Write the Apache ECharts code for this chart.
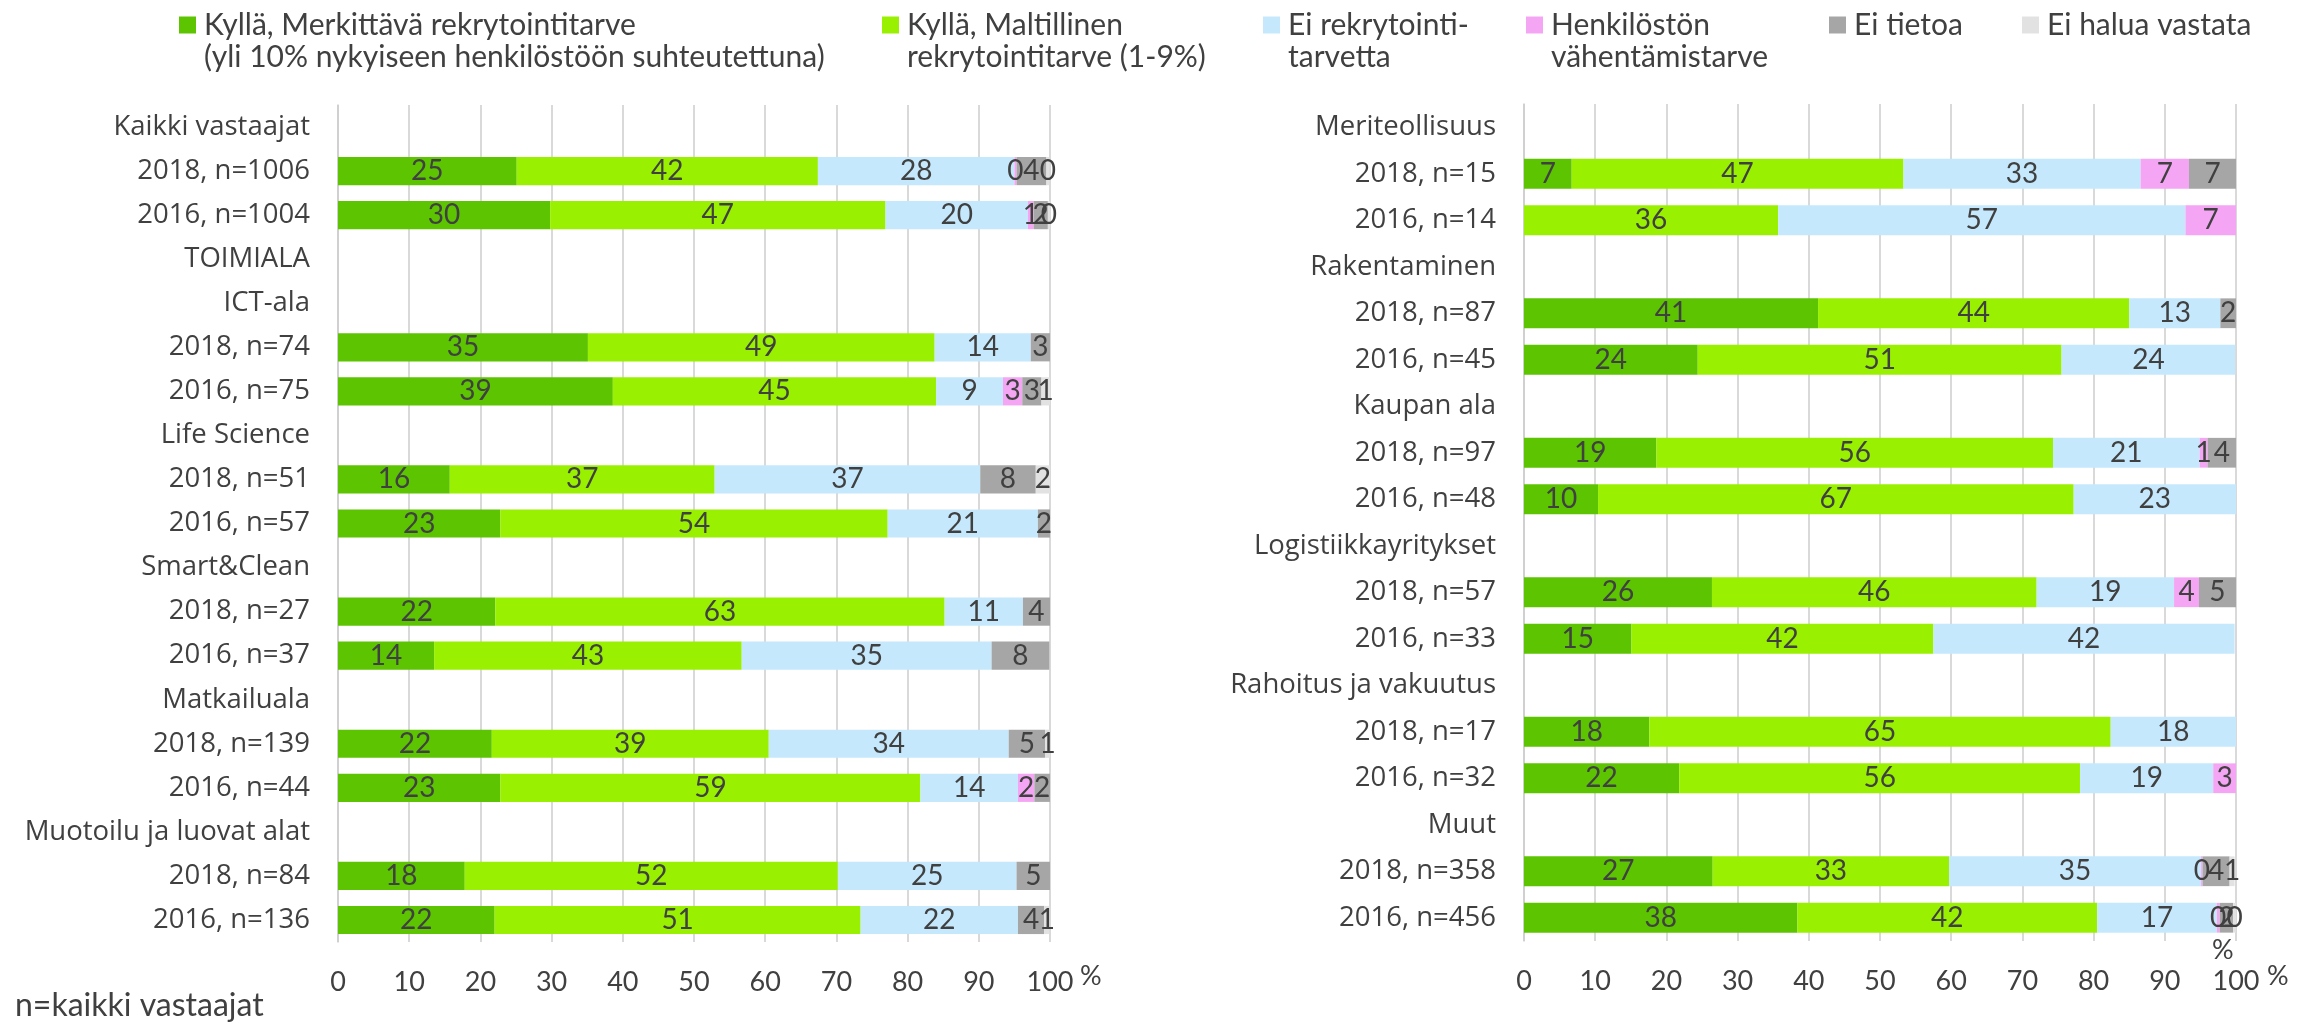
<!DOCTYPE html>
<html>
<head>
<meta charset="utf-8">
<script src="https://cdn.jsdelivr.net/npm/echarts@6/dist/echarts.min.js"></script>
<style>
  html, body { margin: 0; padding: 0; background: #fff; }
  #chart { width: 2315px; height: 1022px; }
</style>
</head>
<body>
<div id="chart"></div>
<script>
// series names (second line of each legend entry after \n)
const seriesNames = [
  'Kyllä, Merkittävä rekrytointitarve\n(yli 10% nykyiseen henkilöstöön suhteutettuna)',
  'Kyllä, Maltillinen\nrekrytointitarve (1-9%)',
  'Ei rekrytointi-\ntarvetta',
  'Henkilöstön\nvähentämistarve',
  'Ei tietoa',
  'Ei halua vastata'
]
const colors = ['#5cc400', '#99f000', '#c5e8fc', '#f4a6f4', '#a6a6a6', '#e2e2e2']

// left panel
const leftCats = ['Kaikki vastaajat', '2018, n=1006', '2016, n=1004', 'TOIMIALA', 'ICT-ala',
  '2018, n=74', '2016, n=75', 'Life Science', '2018, n=51', '2016, n=57', 'Smart&Clean',
  '2018, n=27', '2016, n=37', 'Matkailuala', '2018, n=139', '2016, n=44',
  'Muotoilu ja luovat alat', '2018, n=84', '2016, n=136']
const leftSignificant = [null, 25.1, 29.8, null, null, 35.1, 38.6, null, 15.7, 22.8, null, 22.1, 13.5, null, 21.6, 22.8, null, 17.8, 22.0]
const leftModerate = [null, 42.3, 47.1, null, null, 48.7, 45.4, null, 37.2, 54.4, null, 63.1, 43.2, null, 38.9, 59.0, null, 52.4, 51.4]
const leftNone = [null, 27.6, 20.0, null, null, 13.5, 9.4, null, 37.3, 21.1, null, 11.0, 35.1, null, 33.7, 13.7, null, 25.1, 22.1]
const leftReduce = [null, 0.3, 0.8, null, null, null, 2.7, null, null, null, null, null, null, null, null, 2.3, null, null, null]
const leftUnknown = [null, 4.2, 2.0, null, null, 2.7, 2.7, null, 7.8, 1.7, null, 3.8, 8.1, null, 5.1, 2.2, null, 4.7, 3.7]
const leftNoAnswer = [null, 0.4, 0.3, null, null, null, 1.3, null, 2.0, null, null, null, null, null, 0.7, null, null, null, 0.7]

// right panel
const rightCats = ['Meriteollisuus', '2018, n=15', '2016, n=14', 'Rakentaminen', '2018, n=87',
  '2016, n=45', 'Kaupan ala', '2018, n=97', '2016, n=48', 'Logistiikkayritykset', '2018, n=57',
  '2016, n=33', 'Rahoitus ja vakuutus', '2018, n=17', '2016, n=32', 'Muut', '2018, n=358', '2016, n=456']
const rightSignificant = [null, 6.7, null, null, 41.3, 24.4, null, 18.6, 10.4, null, 26.4, 15.1, null, 17.6, 21.8, null, 26.5, 38.4]
const rightModerate = [null, 46.6, 35.7, null, 43.7, 51.1, null, 55.7, 66.8, null, 45.6, 42.4, null, 64.8, 56.3, null, 33.2, 42.1]
const rightNone = [null, 33.3, 57.2, null, 12.8, 24.4, null, 20.6, 22.8, null, 19.3, 42.3, null, 17.6, 18.7, null, 35.4, 16.8]
const rightReduce = [null, 6.8, 7.1, null, null, null, null, 1.1, null, null, 3.5, null, null, null, 3.2, null, 0.2, 0.4]
const rightUnknown = [null, 6.6, null, null, 2.2, null, null, 4.0, null, null, 5.2, null, null, null, null, null, 3.8, 1.9]
const rightNoAnswer = [null, null, null, null, null, null, null, null, null, null, null, null, null, null, null, null, 0.7, 0.4]

const xTicks = [0, 10, 20, 30, 40, 50, 60, 70, 80, 90, 100]

const txt = '#404040'
const leftData = [leftSignificant, leftModerate, leftNone, leftReduce, leftUnknown, leftNoAnswer]
const rightData = [rightSignificant, rightModerate, rightNone, rightReduce, rightUnknown, rightNoAnswer]

const makeSeries = (data, idx) => data.map((vals, i) => ({
  name: seriesNames[i],
  type: 'bar',
  stack: 'p' + idx,
  xAxisIndex: idx,
  yAxisIndex: idx,
  barWidth: '64%',
  itemStyle: { color: colors[i] },
  label: {
    show: true,
    position: 'inside',
    formatter: p => Math.round(p.value),
    fontFamily: 'Lato',
    fontSize: 28,
    color: txt
  },
  data: vals
}))

// legend entries placed one by one (marker x)
const legendX = [179, 882, 1263, 1526, 1829, 2022]
const legends = seriesNames.map((n, i) => ({
  data: [n],
  left: legendX[i],
  top: 10,
  padding: 0,
  itemWidth: 17,
  itemHeight: 17,
  icon: 'rect',
  selectedMode: false,
  formatter: name => name.split('\n')[0],
  textStyle: { fontFamily: 'Lato', fontSize: 30, color: txt, padding: [0, 0, 0, 3] }
}))
const secondLines = seriesNames.map((n, i) => {
  const parts = n.split('\n')
  if (parts.length < 2) return null
  return {
    type: 'text', x: legendX[i] + 25, y: 57,
    style: { text: parts[1], fontFamily: 'Lato', fontSize: 30, fill: txt, verticalAlign: 'middle' }
  }
}).filter(Boolean)

const xAxisCommon = {
  type: 'value', min: 0, max: 100, interval: 10,
  axisLine: { show: false },
  axisTick: { show: false },
  splitLine: { lineStyle: { color: '#cccccc', width: 1.5 } },
  axisLabel: {
    fontFamily: 'Lato', fontSize: 27, color: txt, margin: 27,
    formatter: v => xTicks.includes(v) ? String(v) : ''
  }
}
const yAxisCommon = {
  type: 'category', inverse: true,
  axisTick: { show: false },
  axisLine: { lineStyle: { color: '#cccccc', width: 1.5 } },
  axisLabel: { fontFamily: 'Open Sans', fontSize: 27.5, color: txt, margin: 28 }
}

const chart = echarts.init(document.getElementById('chart'))
chart.setOption({
  animation: false,
  backgroundColor: '#fff',
  legend: legends,
  grid: [
    { left: 338, width: 712, top: 105, height: 837 },
    { left: 1524, width: 712, top: 104, height: 837 }
  ],
  xAxis: [
    Object.assign({ gridIndex: 0 }, xAxisCommon),
    Object.assign({ gridIndex: 1 }, xAxisCommon)
  ],
  yAxis: [
    Object.assign({ gridIndex: 0, data: leftCats }, yAxisCommon),
    Object.assign({ gridIndex: 1, data: rightCats }, yAxisCommon)
  ],
  series: makeSeries(leftData, 0).concat(makeSeries(rightData, 1)),
  graphic: secondLines.concat([
    { type: 'text', x: 1080, y: 976, style: { text: '%', fontFamily: 'Lato', fontSize: 27, fill: txt, verticalAlign: 'middle' } },
    { type: 'text', x: 2267, y: 976, style: { text: '%', fontFamily: 'Lato', fontSize: 27, fill: txt, verticalAlign: 'middle' } },
    { type: 'text', x: 2212, y: 950, style: { text: '%', fontFamily: 'Lato', fontSize: 27, fill: txt, verticalAlign: 'middle' } },
    { type: 'text', x: 15, y: 1006, style: { text: 'n=kaikki vastaajat', fontFamily: 'Lato', fontSize: 32, fill: txt, verticalAlign: 'middle' } }
  ])
})
</script>
</body>
</html>
